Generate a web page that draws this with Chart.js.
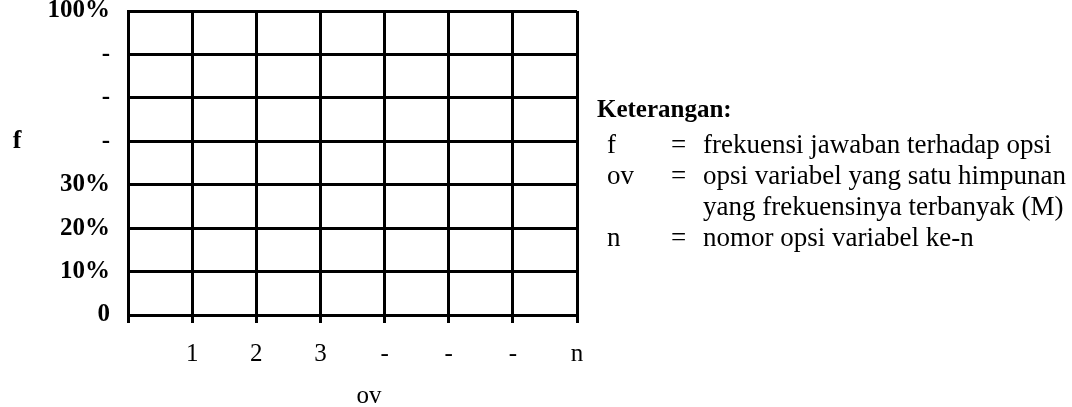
<!DOCTYPE html>
<html>
<head>
<meta charset="utf-8">
<script src="https://cdn.jsdelivr.net/npm/chart.js@4.4.1/dist/chart.umd.min.js"></script>
<style>
  html, body { margin: 0; padding: 0; background: #fff; }
  #wrap { width: 1072px; height: 407px; }
</style>
</head>
<body>
<div id="wrap"><canvas id="ovChart" width="1072" height="407"></canvas></div>
<script>
// tick labels for both axes (one label per grid line)
const xLabels = ['', '1', '2', '3', '-', '-', '-', 'n'];
const yLabels = ['0', '10%', '20%', '30%', '-', '-', '-', '100%'];
const yTitle = 'f';
const xTitle = 'ov';

// "Keterangan" block on the right
const legendTitle = 'Keterangan:';
const legendKeys = ['f', 'ov', '', 'n'];
const legendTexts = [
  'frekuensi jawaban terhadap opsi',
  'opsi variabel yang satu himpunan',
  'yang frekuensinya terbanyak (M)',
  'nomor opsi variabel ke-n'
];

const serif = '"Liberation Serif", "Times New Roman", serif';

// draws the axis titles and the explanation text
const notesPlugin = {
  id: 'notes',
  afterDraw(chart) {
    const ctx = chart.ctx;
    const area = chart.chartArea;
    ctx.save();
    ctx.fillStyle = '#000';
    ctx.textBaseline = 'middle';

    ctx.textAlign = 'center';
    ctx.font = 'bold 26px ' + serif;
    ctx.fillText(yTitle, 17, chart.scales.y.getPixelForValue(4));
    ctx.font = '25px ' + serif;
    ctx.fillText(xTitle, 369, 396);

    ctx.textAlign = 'left';
    const lx = area.right + 20;
    ctx.font = 'bold 25px ' + serif;
    ctx.fillText(legendTitle, lx, 111);
    ctx.font = '27px ' + serif;
    legendTexts.forEach(function(text, i) {
      const y = 146 + i * 31;
      if (legendKeys[i]) {
        ctx.fillText(legendKeys[i], lx + 10, y);
        ctx.fillText('=', lx + 74, y);
      }
      ctx.fillText(text, lx + 106, y);
    });
    ctx.restore();
  }
};

const ctx = document.getElementById('ovChart').getContext('2d');
const ovChart = new Chart(ctx, {
  type: 'scatter',
  data: {
    datasets: [{ data: [] }]
  },
  options: {
    responsive: false,
    animation: false,
    layout: {
      padding: { top: 11, right: 495, bottom: 0, left: 0 }
    },
    plugins: {
      legend: { display: false },
      tooltip: { enabled: false }
    },
    scales: {
      x: {
        type: 'linear',
        min: 0,
        max: xLabels.length - 1,
        afterFit: function(scale) {
          scale.height = 92;
          scale.paddingLeft = 0;
          scale.paddingRight = 0;
        },
        ticks: {
          stepSize: 1,
          autoSkip: false,
          maxRotation: 0,
          padding: 16,
          color: '#000',
          font: { family: serif, size: 25 },
          callback: function(value) { return xLabels[value]; }
        },
        grid: { color: '#000', lineWidth: 3, tickLength: 8, drawTicks: true },
        border: { color: '#000', width: 3 }
      },
      y: {
        type: 'linear',
        min: 0,
        max: yLabels.length - 1,
        afterFit: function(scale) {
          scale.width = 128;
          scale.paddingTop = 0;
          scale.paddingBottom = 0;
        },
        ticks: {
          stepSize: 1,
          autoSkip: false,
          padding: 18,
          color: '#000',
          font: { family: serif, size: 25, weight: 'bold' },
          callback: function(value) { return yLabels[value]; }
        },
        grid: { color: '#000', lineWidth: 3, drawTicks: false },
        border: { color: '#000', width: 3 }
      }
    }
  },
  plugins: [notesPlugin]
});
</script>
</body>
</html>
